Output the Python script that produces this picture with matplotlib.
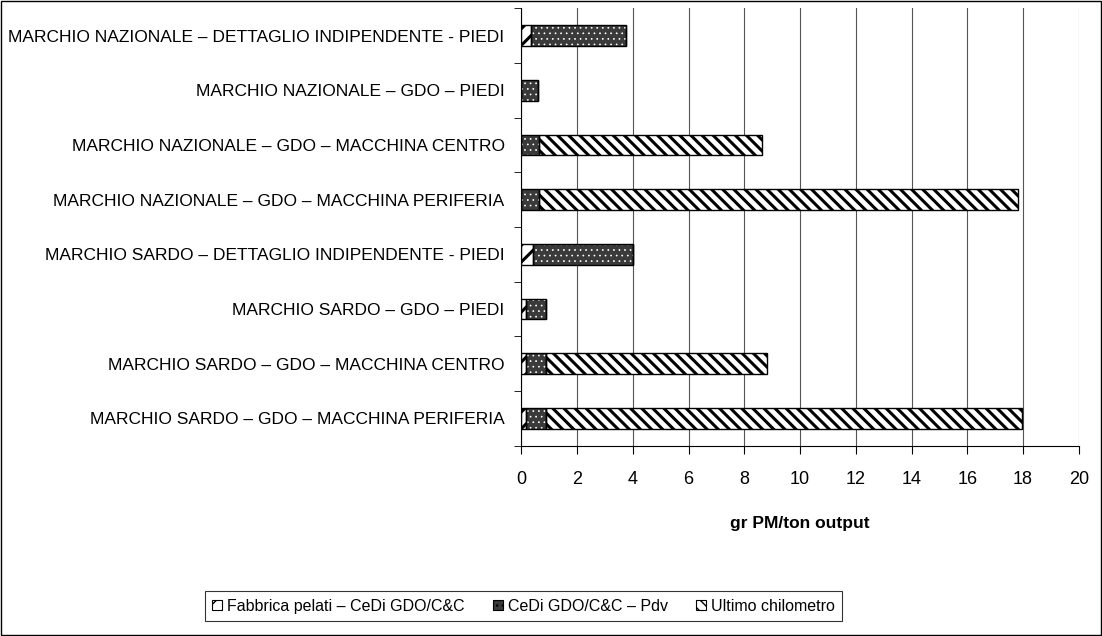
import matplotlib
matplotlib.use('Agg')
import matplotlib.pyplot as plt
from matplotlib.patches import Patch, Rectangle
import numpy as np

plt.rcParams['font.family'] = ['Liberation Sans', 'DejaVu Sans']

# categorie dall'alto verso il basso
categorie = [
    'MARCHIO NAZIONALE – DETTAGLIO INDIPENDENTE - PIEDI',
    'MARCHIO NAZIONALE – GDO – PIEDI',
    'MARCHIO NAZIONALE – GDO – MACCHINA CENTRO',
    'MARCHIO NAZIONALE – GDO – MACCHINA PERIFERIA',
    'MARCHIO SARDO – DETTAGLIO INDIPENDENTE - PIEDI',
    'MARCHIO SARDO – GDO – PIEDI',
    'MARCHIO SARDO – GDO – MACCHINA CENTRO',
    'MARCHIO SARDO – GDO – MACCHINA PERIFERIA',
]
fabbrica_cedi = [0.35, 0.0, 0.0, 0.0, 0.42, 0.17, 0.17, 0.17]
cedi_pdv = [3.42, 0.6, 0.62, 0.62, 3.58, 0.7, 0.7, 0.7]
ultimo_km = [0.0, 0.0, 8.0, 17.2, 0.0, 0.0, 7.95, 17.1]
serie_nomi = ['Fabbrica pelati – CeDi GDO/C&C', 'CeDi GDO/C&C – Pdv', 'Ultimo chilometro']
xticks = [0, 2, 4, 6, 8, 10, 12, 14, 16, 18, 20]

fig = plt.figure(figsize=(11.02, 6.36), dpi=100)
ax = fig.add_axes([0.473, 0.299, 0.506, 0.688])

y = np.arange(len(categorie))
h = 0.38
stili = [
    dict(face='white', hcol='black', hatch='//', hlw=2.2),
    dict(face='#3a3a3a', hcol='white', hatch='...', hlw=0.5),
    dict(face='white', hcol='black', hatch='\\\\\\', hlw=2.2),
]
left = np.zeros(len(categorie))
handles = []
for vals, st in zip([fabbrica_cedi, cedi_pdv, ultimo_km], stili):
    vals = np.array(vals)
    with plt.rc_context({'hatch.linewidth': st['hlw']}):
        ax.barh(y, vals, h, left=left, color=st['face'], edgecolor=st['hcol'],
                hatch=st['hatch'], linewidth=0, zorder=2)
        handles.append(Patch(facecolor=st['face'], edgecolor=st['hcol'],
                             hatch=st['hatch'], linewidth=0))
    ax.barh(y, vals, h, left=left, fill=False, edgecolor='black',
            linewidth=1, zorder=3)
    left = left + vals

ax.set_ylim(len(categorie) - 0.5, -0.5)
ax.set_xlim(0, 20)
ax.set_xticks(xticks)
ax.set_yticks(y)
ax.set_yticklabels(categorie, fontsize=12.5)
ax.set_yticks(np.arange(len(categorie) + 1) - 0.5, minor=True)
ax.tick_params(axis='y', which='major', length=0, pad=12)
ax.tick_params(axis='y', which='minor', length=5, direction='out')
ax.tick_params(axis='x', length=6, direction='out', labelsize=13, pad=12)
ax.xaxis.grid(True, color='#555555', linewidth=0.8, zorder=0)
ax.set_axisbelow(True)
for s in ['top', 'right']:
    ax.spines[s].set_visible(False)
ax.set_xlabel('gr PM/ton output', fontsize=12.5, fontweight='bold', labelpad=20)

leg = fig.legend(handles, serie_nomi, loc='center', bbox_to_anchor=(0.475, 0.047),
                 ncol=3, fontsize=11.5, frameon=True, fancybox=False,
                 edgecolor='black', handlelength=0.6, handleheight=0.6,
                 handletextpad=0.3, columnspacing=1.8, borderpad=0.45)
leg.get_frame().set_linewidth(0.8)
for p in leg.get_patches():
    p.set_edgecolor('black')
    p.set_linewidth(0.8)

fig.patches.append(Rectangle((0.001, 0.001), 0.998, 0.998, transform=fig.transFigure,
                             fill=False, edgecolor='black', linewidth=1))

fig.savefig('out.png', dpi=100)
